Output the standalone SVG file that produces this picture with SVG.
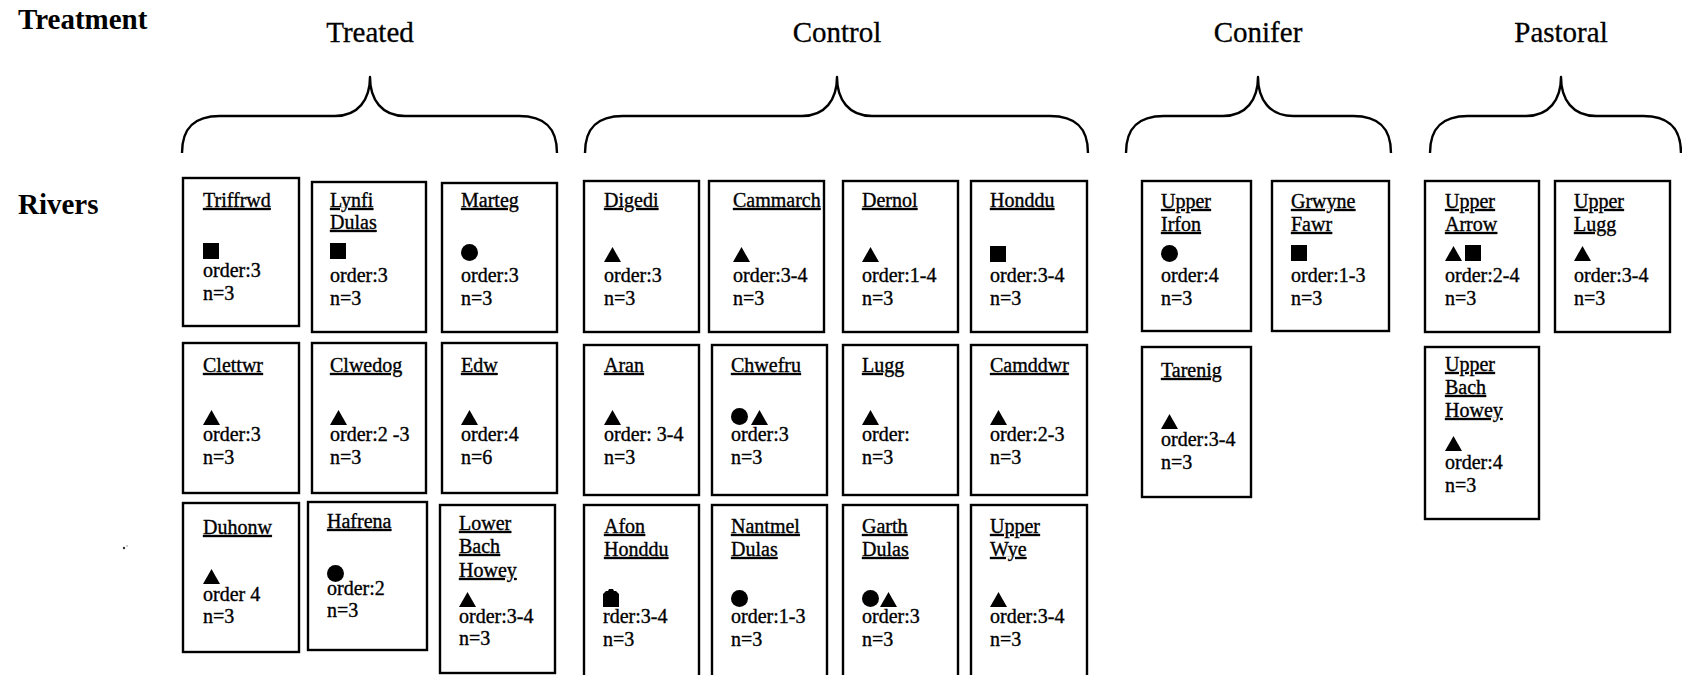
<svg xmlns="http://www.w3.org/2000/svg" xmlns:xlink="http://www.w3.org/1999/xlink" width="1682" height="675" viewBox="0 0 1682 675">
<style>
.bg{fill:#fff}
.box{fill:#fff;stroke:#000;stroke-width:2.4}
.brace{fill:none;stroke:#000;stroke-width:2.4;stroke-linejoin:round}
.hd{font-family:"Liberation Serif","Times New Roman",serif;font-size:29px;fill:#000;stroke:#000;stroke-width:0.3}
.lbl{font-family:"Liberation Serif","Times New Roman",serif;font-size:29px;font-weight:bold;fill:#000}
.t{font-family:"Liberation Serif","Times New Roman",serif;font-size:20px;fill:#000;stroke:#000;stroke-width:0.35}
.u{text-decoration:underline}
.sym{fill:#000}
</style>
<defs>
<path id="tri" class="sym" d="M0,0 L17,0 L8.5,-15 Z"/>
<rect id="sq" class="sym" x="0" y="-16" width="16" height="16"/>
<circle id="dot" class="sym" cx="8.5" cy="-8.5" r="8.5"/>
<path id="bag" class="sym" d="M0,0 L0,-13 L3,-16 L5,-16 L6,-18 L10,-18 L11,-16 L13,-16 L16,-13 L16,0 Z"/>
</defs>
<rect class="bg" x="0" y="0" width="1682" height="675"/>

<text class="lbl" x="18" y="29">Treatment</text>
<text class="lbl" x="18" y="214">Rivers</text>

<text class="hd" x="370" y="42" text-anchor="middle">Treated</text>
<text class="hd" x="837" y="42" text-anchor="middle">Control</text>
<text class="hd" x="1258" y="42" text-anchor="middle">Conifer</text>
<text class="hd" x="1561" y="42" text-anchor="middle">Pastoral</text>

<g id="connectors">
<path class="brace" d="M182,153 C182,128 194,116 220,116 L335,116 C358,116 370,100 370,77 C370,100 382,116 405,116 L519,116 C545,116 557,128 557,153"/>
<path class="brace" d="M585,153 C585,128 597,116 623,116 L802,116 C825,116 837,100 837,77 C837,100 849,116 872,116 L1050,116 C1076,116 1088,128 1088,153"/>
<path class="brace" d="M1126,153 C1126,128 1138,116 1164,116 L1223,116 C1246,116 1258,100 1258,77 C1258,100 1270,116 1293,116 L1353,116 C1379,116 1391,128 1391,153"/>
<path class="brace" d="M1430,153 C1430,128 1442,116 1468,116 L1526,116 C1549,116 1561,100 1561,77 C1561,100 1573,116 1596,116 L1643,116 C1669,116 1681,128 1681,153"/>
</g>

<!-- Treated -->
<g id="triffrwd">
<rect class="box" x="183" y="178" width="116" height="148"/>
<text class="t u" x="203" y="207">Triffrwd</text>
<use href="#sq" x="203" y="259"/>
<text class="t" x="203" y="277">order:3</text>
<text class="t" x="203" y="300">n=3</text>
</g>
<g id="lynfi-dulas">
<rect class="box" x="312" y="182" width="114" height="150"/>
<text class="t u" x="330" y="207">Lynfi</text>
<text class="t u" x="330" y="229">Dulas</text>
<use href="#sq" x="330" y="259"/>
<text class="t" x="330" y="282">order:3</text>
<text class="t" x="330" y="305">n=3</text>
</g>
<g id="marteg">
<rect class="box" x="442" y="183" width="115" height="149"/>
<text class="t u" x="461" y="207">Marteg</text>
<use href="#dot" x="461" y="261"/>
<text class="t" x="461" y="282">order:3</text>
<text class="t" x="461" y="305">n=3</text>
</g>
<g id="clettwr">
<rect class="box" x="183" y="343" width="116" height="150"/>
<text class="t u" x="203" y="372">Clettwr</text>
<use href="#tri" x="203" y="425"/>
<text class="t" x="203" y="441">order:3</text>
<text class="t" x="203" y="464">n=3</text>
</g>
<g id="clwedog">
<rect class="box" x="312" y="343" width="114" height="150"/>
<text class="t u" x="330" y="372">Clwedog</text>
<use href="#tri" x="330" y="425"/>
<text class="t" x="330" y="441">order:2 -3</text>
<text class="t" x="330" y="464">n=3</text>
</g>
<g id="edw">
<rect class="box" x="442" y="343" width="115" height="150"/>
<text class="t u" x="461" y="372">Edw</text>
<use href="#tri" x="461" y="425"/>
<text class="t" x="461" y="441">order:4</text>
<text class="t" x="461" y="464">n=6</text>
</g>
<g id="duhonw">
<rect class="box" x="183" y="503" width="116" height="149"/>
<text class="t u" x="203" y="534">Duhonw</text>
<use href="#tri" x="203" y="584"/>
<text class="t" x="203" y="601">order 4</text>
<text class="t" x="203" y="623">n=3</text>
</g>
<g id="hafrena">
<rect class="box" x="308" y="502" width="119" height="148"/>
<text class="t u" x="327" y="528">Hafrena</text>
<use href="#dot" x="327" y="582"/>
<text class="t" x="327" y="595">order:2</text>
<text class="t" x="327" y="617">n=3</text>
</g>
<g id="lower-bach-howey">
<rect class="box" x="440" y="505" width="115" height="168"/>
<text class="t u" x="459" y="530">Lower</text>
<text class="t u" x="459" y="553">Bach</text>
<text class="t u" x="459" y="577">Howey</text>
<use href="#tri" x="459" y="607"/>
<text class="t" x="459" y="623">order:3-4</text>
<text class="t" x="459" y="645">n=3</text>
</g>

<!-- Control -->
<g id="digedi">
<rect class="box" x="584" y="181" width="115" height="151"/>
<text class="t u" x="604" y="207">Digedi</text>
<use href="#tri" x="604" y="262"/>
<text class="t" x="604" y="282">order:3</text>
<text class="t" x="604" y="305">n=3</text>
</g>
<g id="cammarch">
<rect class="box" x="709" y="181" width="115" height="151"/>
<text class="t u" x="733" y="207">Cammarch</text>
<use href="#tri" x="733" y="262"/>
<text class="t" x="733" y="282">order:3-4</text>
<text class="t" x="733" y="305">n=3</text>
</g>
<g id="dernol">
<rect class="box" x="843" y="181" width="115" height="151"/>
<text class="t u" x="862" y="207">Dernol</text>
<use href="#tri" x="862" y="262"/>
<text class="t" x="862" y="282">order:1-4</text>
<text class="t" x="862" y="305">n=3</text>
</g>
<g id="honddu">
<rect class="box" x="971" y="181" width="116" height="151"/>
<text class="t u" x="990" y="207">Honddu</text>
<use href="#sq" x="990" y="262"/>
<text class="t" x="990" y="282">order:3-4</text>
<text class="t" x="990" y="305">n=3</text>
</g>
<g id="aran">
<rect class="box" x="584" y="345" width="115" height="150"/>
<text class="t u" x="604" y="372">Aran</text>
<use href="#tri" x="604" y="425"/>
<text class="t" x="604" y="441">order: 3-4</text>
<text class="t" x="604" y="464">n=3</text>
</g>
<g id="chwefru">
<rect class="box" x="712" y="345" width="115" height="150"/>
<text class="t u" x="731" y="372">Chwefru</text>
<use href="#dot" x="731" y="425"/>
<use href="#tri" x="751" y="425"/>
<text class="t" x="731" y="441">order:3</text>
<text class="t" x="731" y="464">n=3</text>
</g>
<g id="lugg">
<rect class="box" x="843" y="345" width="115" height="150"/>
<text class="t u" x="862" y="372">Lugg</text>
<use href="#tri" x="862" y="425"/>
<text class="t" x="862" y="441">order:</text>
<text class="t" x="862" y="464">n=3</text>
</g>
<g id="camddwr">
<rect class="box" x="971" y="345" width="116" height="150"/>
<text class="t u" x="990" y="372">Camddwr</text>
<use href="#tri" x="990" y="425"/>
<text class="t" x="990" y="441">order:2-3</text>
<text class="t" x="990" y="464">n=3</text>
</g>
<g id="afon-honddu">
<rect class="box" x="584" y="505" width="115" height="185"/>
<text class="t u" x="604" y="533">Afon</text>
<text class="t u" x="604" y="556">Honddu</text>
<use href="#bag" x="603" y="607"/>
<text class="t" x="603" y="623">rder:3-4</text>
<text class="t" x="603" y="646">n=3</text>
</g>
<g id="nantmel-dulas">
<rect class="box" x="712" y="505" width="115" height="185"/>
<text class="t u" x="731" y="533">Nantmel</text>
<text class="t u" x="731" y="556">Dulas</text>
<use href="#dot" x="731" y="607"/>
<text class="t" x="731" y="623">order:1-3</text>
<text class="t" x="731" y="646">n=3</text>
</g>
<g id="garth-dulas">
<rect class="box" x="843" y="505" width="115" height="185"/>
<text class="t u" x="862" y="533">Garth</text>
<text class="t u" x="862" y="556">Dulas</text>
<use href="#dot" x="862" y="607"/>
<use href="#tri" x="880" y="607"/>
<text class="t" x="862" y="623">order:3</text>
<text class="t" x="862" y="646">n=3</text>
</g>
<g id="upper-wye">
<rect class="box" x="971" y="505" width="116" height="185"/>
<text class="t u" x="990" y="533">Upper</text>
<text class="t u" x="990" y="556">Wye</text>
<use href="#tri" x="990" y="607"/>
<text class="t" x="990" y="623">order:3-4</text>
<text class="t" x="990" y="646">n=3</text>
</g>

<!-- Conifer -->
<g id="upper-irfon">
<rect class="box" x="1142" y="181" width="109" height="150"/>
<text class="t u" x="1161" y="208">Upper</text>
<text class="t u" x="1161" y="231">Irfon</text>
<use href="#dot" x="1161" y="262"/>
<text class="t" x="1161" y="282">order:4</text>
<text class="t" x="1161" y="305">n=3</text>
</g>
<g id="grwyne-fawr">
<rect class="box" x="1272" y="181" width="117" height="150"/>
<text class="t u" x="1291" y="208">Grwyne</text>
<text class="t u" x="1291" y="231">Fawr</text>
<use href="#sq" x="1291" y="261"/>
<text class="t" x="1291" y="282">order:1-3</text>
<text class="t" x="1291" y="305">n=3</text>
</g>
<g id="tarenig">
<rect class="box" x="1142" y="347" width="109" height="150"/>
<text class="t u" x="1161" y="377">Tarenig</text>
<use href="#tri" x="1161" y="429"/>
<text class="t" x="1161" y="446">order:3-4</text>
<text class="t" x="1161" y="469">n=3</text>
</g>

<!-- Pastoral -->
<g id="upper-arrow">
<rect class="box" x="1425" y="181" width="114" height="151"/>
<text class="t u" x="1445" y="208">Upper</text>
<text class="t u" x="1445" y="231">Arrow</text>
<use href="#tri" x="1445" y="261"/>
<use href="#sq" x="1465" y="261"/>
<text class="t" x="1445" y="282">order:2-4</text>
<text class="t" x="1445" y="305">n=3</text>
</g>
<g id="upper-lugg">
<rect class="box" x="1555" y="181" width="115" height="151"/>
<text class="t u" x="1574" y="208">Upper</text>
<text class="t u" x="1574" y="231">Lugg</text>
<use href="#tri" x="1574" y="261"/>
<text class="t" x="1574" y="282">order:3-4</text>
<text class="t" x="1574" y="305">n=3</text>
</g>
<g id="upper-bach-howey">
<rect class="box" x="1425" y="347" width="114" height="172"/>
<text class="t u" x="1445" y="371">Upper</text>
<text class="t u" x="1445" y="394">Bach</text>
<text class="t u" x="1445" y="417">Howey</text>
<use href="#tri" x="1445" y="451"/>
<text class="t" x="1445" y="469">order:4</text>
<text class="t" x="1445" y="492">n=3</text>
</g>

<g id="speck">
<circle cx="124" cy="548" r="1.2" fill="#333"/>
<circle cx="127" cy="546" r="0.7" fill="#777"/>
</g>
</svg>
